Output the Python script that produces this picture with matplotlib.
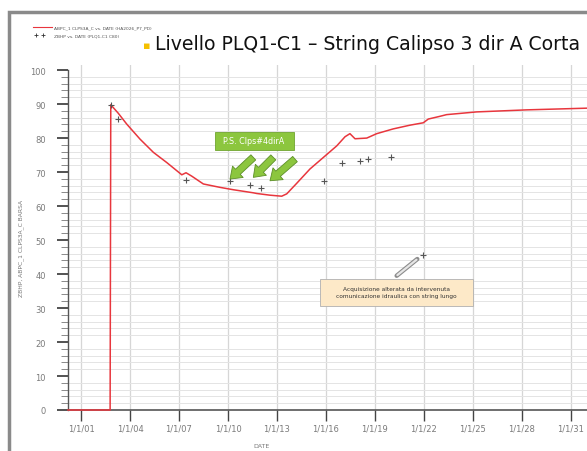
import matplotlib
matplotlib.use("Agg")
import matplotlib.pyplot as plt
from matplotlib.patches import Rectangle
from matplotlib.lines import Line2D

# ---------------- data ----------------
# red simulated curve (year as decimal, pressure)
line_years = [2000.2, 2002.78, 2002.82, 2003.28, 2003.80, 2004.61, 2005.43, 2006.25,
              2007.17, 2007.43, 2007.78, 2008.49, 2009.51, 2010.33, 2011.55, 2011.76,
              2012.57, 2013.29, 2013.60, 2014.21, 2015.02, 2015.84, 2016.66, 2017.17,
              2017.47, 2017.78, 2018.50, 2019.11, 2020.12, 2021.15, 2021.96, 2022.27,
              2022.98, 2023.39, 2025.23, 2028.29, 2031.99]
line_values = [0, 0, 89.8, 87.3, 84.1, 79.7, 75.8, 72.8,
               69.2, 69.8, 68.8, 66.5, 65.5, 64.8, 63.9, 63.7,
               63.2, 62.9, 63.6, 66.7, 70.9, 74.3, 77.7, 80.4,
               81.3, 79.8, 80.0, 81.3, 82.7, 83.8, 84.5, 85.6,
               86.4, 86.9, 87.7, 88.3, 88.8]

# measured points
pt_years = [2002.82, 2003.28, 2007.43, 2010.12, 2011.35, 2012.00, 2015.88,
            2017.00, 2018.08, 2018.60, 2020.00, 2021.96]
pt_values = [89.8, 85.5, 67.6, 67.4, 66.1, 65.4, 67.3,
             72.6, 73.4, 73.9, 74.3, 45.5]

xtick_pos = [2001, 2004, 2007, 2010, 2013, 2016, 2019, 2022, 2025, 2028, 2031]
xtick_labels = ["1/1/01", "1/1/04", "1/1/07", "1/1/10", "1/1/13", "1/1/16",
                "1/1/19", "1/1/22", "1/1/25", "1/1/28", "1/1/31"]
ytick_pos = [0, 10, 20, 30, 40, 50, 60, 70, 80, 90, 100]

title = "Livello PLQ1-C1 \u2013 String Calipso 3 dir A Corta"
legend_labels = ["ABPC_1 CLPS3A_C vs. DATE (HA2026_P7_PD)", "ZBHP vs. DATE (PLQ1-C1 C80)"]
ylabel = "ZBHP, ABPC_1 CLPS3A_C BARSA"
xlabel = "DATE"
green_note = "P.S. Clps#4dirA"
box_note = "Acquisizione alterata da intervenuta\ncomunicazione idraulica con string lungo"

# ---------------- figure ----------------
W, H = 587, 452
fig = plt.figure(figsize=(W / 100, H / 100), dpi=100)
fig.patch.set_facecolor("white")

# screenshot frame
fig.patches.append(Rectangle((9 / W, -0.1), 1.2, (452 - 13) / H + 0.1,
                             transform=fig.transFigure, fill=False,
                             ec="#8a8a8a", lw=2.5, zorder=0))

ax = fig.add_axes([68 / W, 41 / H, (W - 68) / W, (411 - 66) / H])
ax.set_xlim(2000.2, 2031.99)
ax.set_ylim(0, 101.5)

# grid
ax.set_xticks(xtick_pos)
ax.set_xticklabels(xtick_labels)
ax.set_yticks(ytick_pos)
ax.set_yticks(list(range(0, 101, 2)), minor=True)
ax.grid(True, axis="x", which="major", color="#d6d6d6", lw=0.9)
ax.grid(True, axis="y", which="minor", color="#e4e4e4", lw=0.7)
ax.set_axisbelow(True)

for s in ["top", "right"]:
    ax.spines[s].set_visible(False)
ax.spines["left"].set_color("#555555")
ax.spines["bottom"].set_color("#555555")
ax.spines["left"].set_linewidth(1.0)
ax.spines["bottom"].set_linewidth(1.2)
ax.spines["left"].set_bounds(0, 100)

ax.tick_params(axis="x", which="major", direction="out", length=8, width=1.0,
               color="#444444", labelsize=6, labelcolor="#7a7a7a", pad=2)
ax.tick_params(axis="y", which="major", direction="out", length=8, width=1.3,
               color="#444444", labelsize=6, labelcolor="#7a7a7a", pad=8)
ax.tick_params(axis="y", which="minor", direction="out", length=5, width=0.6,
               color="#777777")
ax.tick_params(axis="x", which="minor", length=0)

# data
ax.plot(line_years, line_values, color="#e8363d", lw=1.1, zorder=3, clip_on=False)
ax.plot(pt_years, pt_values, ls="none", marker="+", ms=5, mew=0.8,
        color="#555555", zorder=4)


def px2d(x, y):
    return 2001 + (x - 81) / 16.33, (411 - y) / 3.4


# green note box
x0, y0 = px2d(215, 150.5)
x1, y1 = px2d(293.5, 133)
ax.add_patch(Rectangle((x0, y0), x1 - x0, y1 - y0, fc="#8cc63e", ec="#6fa52f",
                       lw=0.6, zorder=5))
ax.text(px2d(223, 0)[0], (y0 + y1) / 2, green_note, color="white", fontsize=5.8,
        ha="left", va="center", zorder=6)

# green arrows
for tail, tip in [((253.3, 158.3), (230, 180)),
                  ((273.3, 158.3), (253.3, 178.3)),
                  ((295, 160), (270, 181.7))]:
    ax.annotate("", xy=px2d(*tip), xytext=px2d(*tail),
                arrowprops=dict(arrowstyle="simple,head_width=0.8,head_length=0.55,tail_width=0.36",
                                fc="#8cc63e", ec="#5d8f28", lw=0.6,
                                shrinkA=0, shrinkB=0, mutation_scale=14),
                zorder=6)

# annotation box
bx0, by0 = px2d(320, 306.7)
bx1, by1 = px2d(473.3, 280)
ax.add_patch(Rectangle((bx0, by0), bx1 - bx0, by1 - by0, fc="#fde9c8",
                       ec="#b0b0b0", lw=0.6, zorder=5))
ax.text((bx0 + bx1) / 2, (by0 + by1) / 2, box_note, color="#333333",
        fontsize=4.2, ha="center", va="center", linespacing=1.5, zorder=6)
ax.annotate("", xy=px2d(417.3, 260), xytext=px2d(396.7, 276.7),
            arrowprops=dict(arrowstyle="-", color="#8c8c8c", lw=3.2,
                            shrinkA=0, shrinkB=0), zorder=6)
ax.annotate("", xy=px2d(416.5, 260.7), xytext=px2d(397.4, 276.1),
            arrowprops=dict(arrowstyle="-", color="#e6e6e6", lw=1.6,
                            shrinkA=0, shrinkB=0), zorder=6)

# axis labels
fig.text(21 / W, 1 - 248 / H, ylabel, rotation=90, fontsize=4.3,
         color="#777777", ha="center", va="center")
fig.text(262 / W, 1 - 447 / H, xlabel, fontsize=4.5, color="#777777",
         ha="center", va="center")

# title
fig.text(147 / W, 1 - 46 / H, "\u25aa", fontsize=8, color="#f5c000",
         ha="center", va="center")
fig.text(155 / W, 1 - 45 / H, title, fontsize=13.6, color="#111111",
         ha="left", va="center")

# legend (manual)
fig.lines.append(Line2D([33 / W, 52 / W], [1 - 28 / H, 1 - 28 / H],
                        transform=fig.transFigure, color="#e8363d", lw=0.8))
fig.lines.append(Line2D([36 / W, 43 / W], [1 - 36 / H, 1 - 36 / H],
                        transform=fig.transFigure, ls="none", marker="+",
                        ms=2.5, mew=0.6, color="#333333"))
fig.text(54 / W, 1 - 28 / H, legend_labels[0], fontsize=3.2, color="#555555",
         ha="left", va="center")
fig.text(54 / W, 1 - 36 / H, legend_labels[1], fontsize=3.2, color="#555555",
         ha="left", va="center")

fig.savefig("out.png", dpi=100, facecolor="white")
